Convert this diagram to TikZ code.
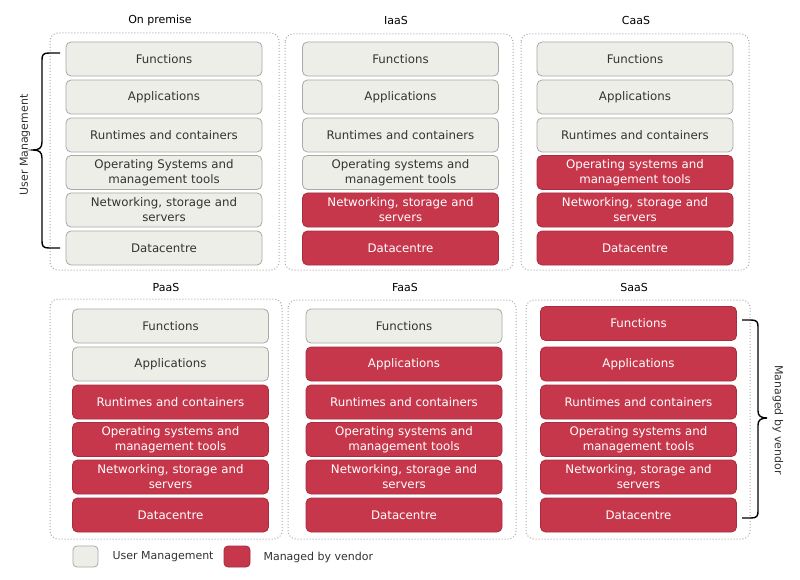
\documentclass[tikz,border=0pt]{standalone}
\usepackage{fontspec}
\setmainfont{DejaVu Sans}
\definecolor{umfill}{HTML}{EEEEE9}
\definecolor{umdraw}{HTML}{A9A9A6}
\definecolor{umtext}{HTML}{333333}
\definecolor{mvfill}{HTML}{C7374B}
\definecolor{mvdraw}{HTML}{A82C3D}
\definecolor{paneldraw}{HTML}{ABABAB}
\tikzset{
  layer/.style={rectangle, rounded corners=5pt, minimum width=196pt, minimum height=34pt,
    inner sep=0pt, text width=190pt, align=center, line width=0.8pt,
    font=\fontsize{11.8}{15}\selectfont},
  um/.style={layer, fill=umfill, draw=umdraw, text=umtext},
  mv/.style={layer, fill=mvfill, draw=mvdraw, text=white},
  panel/.style={draw=paneldraw, dotted, line width=1pt, rounded corners=8pt},
  ttl/.style={font=\fontsize{11}{13}\selectfont, text=black},
  lbl/.style={font=\fontsize{11}{13}\selectfont, text=umtext},
  bracestyle/.style={draw=black, line width=1.4pt},
}
\begin{document}
\begin{tikzpicture}[x=1pt,y=-1pt]
\useasboundingbox[fill=white] (0,0) rectangle (800,580);

% panels
\draw[panel] (50,33) rectangle (279,270);
\draw[panel] (285,34) rectangle (513,270);
\draw[panel] (521,34) rectangle (749,270);
\draw[panel] (50,299) rectangle (282,539);
\draw[panel] (288,300) rectangle (516,539);
\draw[panel] (526,300) rectangle (750,539);

% titles
\node[ttl] (t1) at (160,20) {On premise};
\node[ttl] (t2) at (396,20) {IaaS};
\node[ttl] (t3) at (636,20) {CaaS};
\node[ttl] (t4) at (166,287) {PaaS};
\node[ttl] (t5) at (405,287) {FaaS};
\node[ttl] (t6) at (634,287) {SaaS};

% On premise
\node[um] (a1) at (164,59) {Functions};
\node[um] (a2) at (164,97) {Applications};
\node[um] (a3) at (164,135) {Runtimes and containers};
\node[um] (a4) at (164,172.5) {Operating Systems and\\management tools};
\node[um] (a5) at (164,210) {Networking, storage and\\servers};
\node[um] (a6) at (164,248) {Datacentre};

% IaaS
\node[um] (b1) at (400.5,59) {Functions};
\node[um] (b2) at (400.5,97) {Applications};
\node[um] (b3) at (400.5,135) {Runtimes and containers};
\node[um] (b4) at (400.5,172.5) {Operating systems and\\management tools};
\node[mv] (b5) at (400.5,210) {Networking, storage and\\servers};
\node[mv] (b6) at (400.5,248) {Datacentre};

% CaaS
\node[um] (c1) at (635,59) {Functions};
\node[um] (c2) at (635,97) {Applications};
\node[um] (c3) at (635,135) {Runtimes and containers};
\node[mv] (c4) at (635,172.5) {Operating systems and\\management tools};
\node[mv] (c5) at (635,210) {Networking, storage and\\servers};
\node[mv] (c6) at (635,248) {Datacentre};

% PaaS
\node[um] (d1) at (170.5,326) {Functions};
\node[um] (d2) at (170.5,364) {Applications};
\node[mv] (d3) at (170.5,402) {Runtimes and containers};
\node[mv] (d4) at (170.5,439.5) {Operating systems and\\management tools};
\node[mv] (d5) at (170.5,477) {Networking, storage and\\servers};
\node[mv] (d6) at (170.5,515) {Datacentre};

% FaaS
\node[um] (e1) at (404,326) {Functions};
\node[mv] (e2) at (404,364) {Applications};
\node[mv] (e3) at (404,402) {Runtimes and containers};
\node[mv] (e4) at (404,439.5) {Operating systems and\\management tools};
\node[mv] (e5) at (404,477) {Networking, storage and\\servers};
\node[mv] (e6) at (404,515) {Datacentre};

% SaaS
\node[mv] (f1) at (638.5,323.5) {Functions};
\node[mv] (f2) at (638.5,364) {Applications};
\node[mv] (f3) at (638.5,402) {Runtimes and containers};
\node[mv] (f4) at (638.5,439.5) {Operating systems and\\management tools};
\node[mv] (f5) at (638.5,477) {Networking, storage and\\servers};
\node[mv] (f6) at (638.5,515) {Datacentre};

% left brace
\draw[bracestyle] (60,53) -- (49,53) .. controls (43,53) and (42,55) .. (42,60)
  -- (42,142) .. controls (42,148) and (39,150) .. (33,150)
  .. controls (39,150) and (42,152) .. (42,158)
  -- (42,241) .. controls (42,246) and (43,248) .. (49,248) -- (60,248);
\node[lbl, rotate=90] (lu) at (25,145) {User Management};

% right brace
\draw[bracestyle] (742,320) -- (751,320) .. controls (757,320) and (758,322) .. (758,327)
  -- (758,411) .. controls (758,416) and (761,418) .. (767,418)
  .. controls (761,418) and (758,420) .. (758,425)
  -- (758,511) .. controls (758,516) and (757,518) .. (751,518) -- (742,518);
\node[lbl, rotate=-90] (lv) at (778,420) {Managed by vendor};

% legend
\node[rectangle, rounded corners=4pt, minimum width=25pt, minimum height=21pt, inner sep=0pt,
  fill=umfill, draw=umdraw, line width=0.8pt] (k1) at (85.5,556.5) {};
\node[lbl, anchor=west] (k1t) at (109,557) {User Management};
\node[rectangle, rounded corners=4pt, minimum width=26pt, minimum height=21pt, inner sep=0pt,
  fill=mvfill, draw=mvdraw, line width=0.8pt] (k2) at (237,556.5) {};
\node[lbl, anchor=west] (k2t) at (260,557) {Managed by vendor};
\end{tikzpicture}
\end{document}
